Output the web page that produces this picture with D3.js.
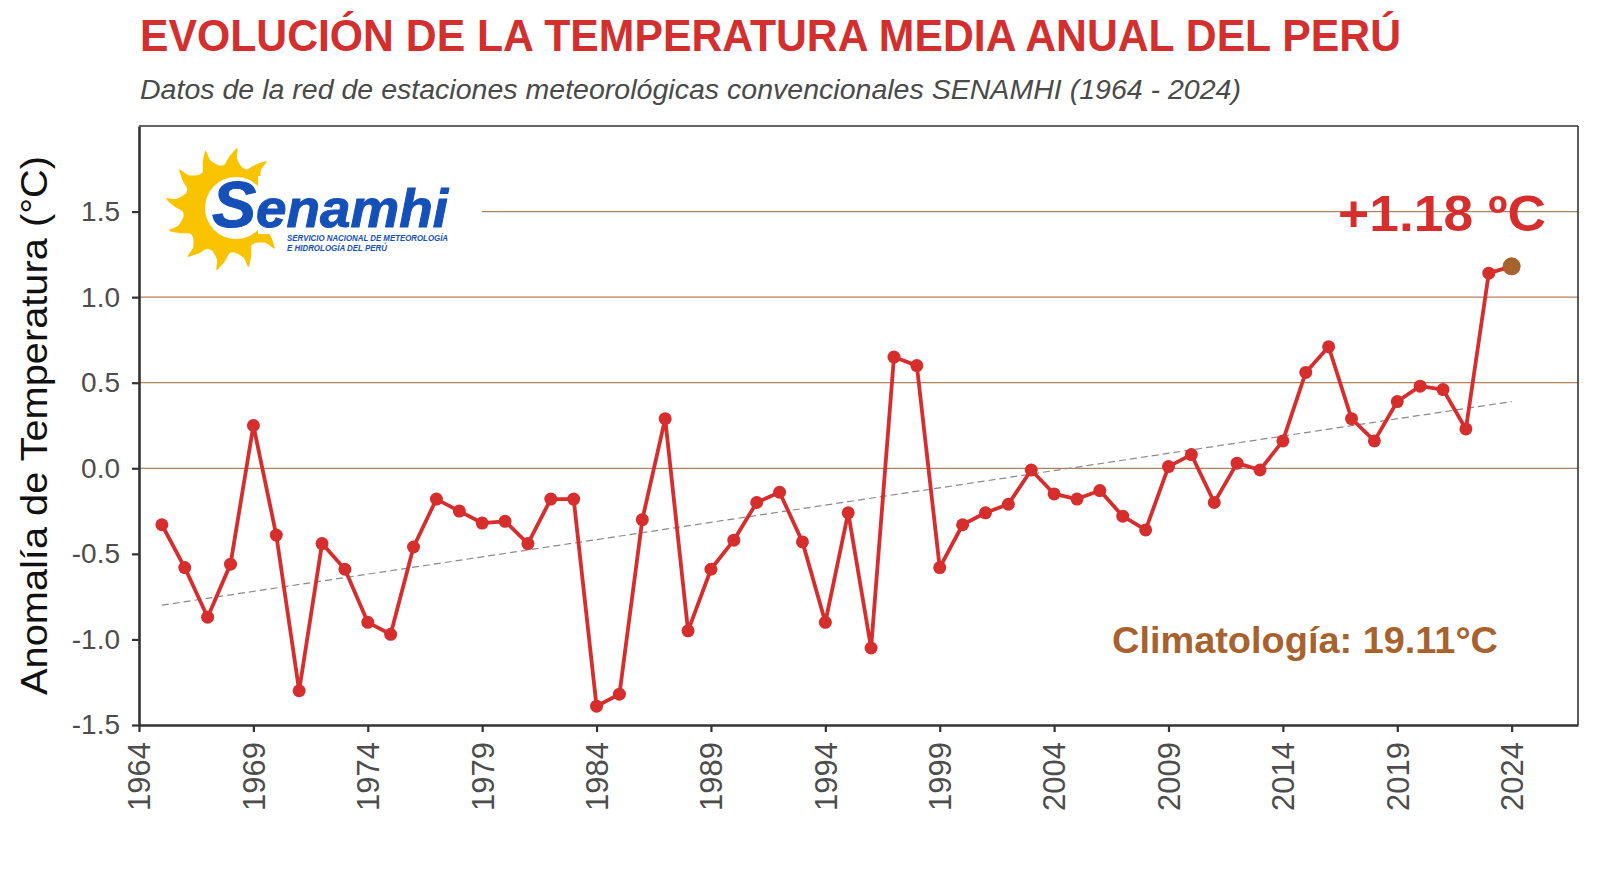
<!DOCTYPE html>
<html>
<head>
<meta charset="utf-8">
<script src="https://cdn.jsdelivr.net/npm/d3@7"></script>
<style>
  body { margin: 0; background: #fff; }
  svg { display: block; font-family: "Liberation Sans", Arial, sans-serif; }
</style>
</head>
<body>
<div id="chart"></div>
<script>
// annual mean temperature anomaly, Peru (°C, vs 19.11 climatology)
var years = [1965, 1966, 1967, 1968, 1969, 1970, 1971, 1972, 1973, 1974,
             1975, 1976, 1977, 1978, 1979, 1980, 1981, 1982, 1983, 1984,
             1985, 1986, 1987, 1988, 1989, 1990, 1991, 1992, 1993, 1994,
             1995, 1996, 1997, 1998, 1999, 2000, 2001, 2002, 2003, 2004,
             2005, 2006, 2007, 2008, 2009, 2010, 2011, 2012, 2013, 2014,
             2015, 2016, 2017, 2018, 2019, 2020, 2021, 2022, 2023, 2024];
var anomalies = [-0.33, -0.58, -0.87, -0.56, 0.25, -0.39, -1.30, -0.44, -0.59, -0.90,
                 -0.97, -0.46, -0.18, -0.25, -0.32, -0.31, -0.44, -0.18, -0.18, -1.39,
                 -1.32, -0.30, 0.29, -0.95, -0.59, -0.42, -0.20, -0.14, -0.43, -0.90,
                 -0.26, -1.05, 0.65, 0.60, -0.58, -0.33, -0.26, -0.21, -0.01, -0.15,
                 -0.18, -0.13, -0.28, -0.36, 0.01, 0.08, -0.20, 0.03, -0.01, 0.16,
                 0.56, 0.71, 0.29, 0.16, 0.39, 0.48, 0.46, 0.23, 1.14, 1.18];
// linear trend shown as dashed line (end points)
var trendYears = [1965, 2024];
var trendValues = [-0.80, 0.39];

var xTicks = [1964, 1969, 1974, 1979, 1984, 1989, 1994, 1999, 2004, 2009, 2014, 2019, 2024];
var yTicks = [-1.5, -1.0, -0.5, 0.0, 0.5, 1.0, 1.5];
var gridValues = [0.0, 0.5, 1.0, 1.5];

var titleText = "EVOLUCIÓN DE LA TEMPERATURA MEDIA ANUAL DEL PERÚ";
var subtitleText = "Datos de la red de estaciones meteorológicas convencionales SENAMHI (1964 - 2024)";
var yTitle = "Anomalía de Temperatura (°C)";
var lastLabel = "+1.18 ºC";
var climLabel = "Climatología: 19.11°C";

var width = 1600, height = 880;
var plotLeft = 139, plotRight = 1578, plotTop = 126, plotBottom = 725;

var red = "#d62d2d", brown = "#a8622e", gridCol = "#b0825e", tickCol = "#4d4d4d";

var svg = d3.select("#chart").append("svg")
  .attr("width", width)
  .attr("height", height);

var x = d3.scaleLinear().domain([1964, 2026.9]).range([plotLeft, plotRight]);
var y = d3.scaleLinear().domain([-1.5, 2.0]).range([plotBottom, plotTop]);

var data = years.map(function(yr, i) { return { year: yr, value: anomalies[i] }; });

// titles
svg.append("text")
  .attr("x", 140).attr("y", 51)
  .attr("font-size", 45).attr("font-weight", "bold")
  .attr("fill", "#d32f2f")
  .attr("textLength", 1261).attr("lengthAdjust", "spacingAndGlyphs")
  .text(titleText);

svg.append("text")
  .attr("x", 140).attr("y", 99)
  .attr("font-size", 27).attr("font-style", "italic")
  .attr("fill", "#4a4a4a")
  .attr("textLength", 1101).attr("lengthAdjust", "spacingAndGlyphs")
  .text(subtitleText);

// Senamhi logo
var logo = svg.append("g");
var sunX = 227, sunY = 209, nRays = 12;
var pts = [];
for (var i = 0; i < nRays; i++) {
  var a = i * 2 * Math.PI / nRays;
  pts.push([a - 0.10, 43]);
  pts.push([a + 0.05, 53]);
  pts.push([a + 0.17, 62]);
  pts.push([a + 0.20, 51]);
}
var ray = d3.lineRadial().curve(d3.curveCardinalClosed.tension(0.3));
logo.append("path")
  .attr("transform", "translate(" + sunX + "," + sunY + ")")
  .attr("d", ray(pts))
  .attr("fill", "#f9c300");
logo.append("circle").attr("cx", sunX).attr("cy", sunY).attr("r", 44).attr("fill", "#f9c300");
logo.append("circle").attr("cx", sunX + 9).attr("cy", sunY - 1).attr("r", 31).attr("fill", "#fff");
logo.append("rect").attr("x", 258).attr("y", 176).attr("width", 196).attr("height", 58)
  .attr("fill", "#fff");

var brand = logo.append("text")
  .attr("x", 212).attr("y", 227)
  .attr("font-weight", "bold").attr("font-style", "italic")
  .attr("fill", "#1550b8")
  .attr("stroke", "#1550b8").attr("stroke-width", 1)
  .attr("textLength", 236).attr("lengthAdjust", "spacingAndGlyphs");
brand.append("tspan").attr("font-size", 64).text("S");
brand.append("tspan").attr("font-size", 53).text("enamhi");

logo.append("text")
  .attr("x", 287).attr("y", 241)
  .attr("font-size", 8.5).attr("font-weight", "bold").attr("font-style", "italic")
  .attr("fill", "#1550b8")
  .attr("textLength", 161).attr("lengthAdjust", "spacingAndGlyphs")
  .text("SERVICIO NACIONAL DE METEOROLOGÍA");
logo.append("text")
  .attr("x", 287).attr("y", 251)
  .attr("font-size", 8.5).attr("font-weight", "bold").attr("font-style", "italic")
  .attr("fill", "#1550b8")
  .attr("textLength", 100).attr("lengthAdjust", "spacingAndGlyphs")
  .text("E HIDROLOGÍA DEL PERÚ");

// gridlines (the 1.5 one starts after the logo)
svg.append("g").selectAll("line")
  .data(gridValues)
  .enter().append("line")
  .attr("x1", function(d) { return d === 1.5 ? 482 : plotLeft; })
  .attr("x2", plotRight)
  .attr("y1", function(d) { return y(d); })
  .attr("y2", function(d) { return y(d); })
  .attr("stroke", gridCol)
  .attr("stroke-width", 1.2);

// trend
svg.append("line")
  .attr("x1", x(trendYears[0])).attr("y1", y(trendValues[0]))
  .attr("x2", x(trendYears[1])).attr("y2", y(trendValues[1]))
  .attr("stroke", "#8a8a8a")
  .attr("stroke-width", 1.2)
  .attr("stroke-dasharray", "7,4");

// series line + points
var line = d3.line()
  .x(function(d) { return x(d.year); })
  .y(function(d) { return y(d.value); });

svg.append("path")
  .datum(data)
  .attr("d", line)
  .attr("fill", "none")
  .attr("stroke", red)
  .attr("stroke-width", 3.8)
  .attr("stroke-linejoin", "round");

svg.append("g").selectAll("circle")
  .data(data.slice(0, -1))
  .enter().append("circle")
  .attr("cx", function(d) { return x(d.year); })
  .attr("cy", function(d) { return y(d.value); })
  .attr("r", 6.5)
  .attr("fill", red);

var last = data[data.length - 1];
svg.append("circle")
  .attr("cx", x(last.year))
  .attr("cy", y(last.value))
  .attr("r", 9)
  .attr("fill", brown);

// annotations
svg.append("text")
  .attr("x", 1338).attr("y", 231)
  .attr("font-size", 50).attr("font-weight", "bold")
  .attr("fill", red)
  .attr("textLength", 208).attr("lengthAdjust", "spacingAndGlyphs")
  .text(lastLabel);

svg.append("text")
  .attr("x", 1112).attr("y", 653)
  .attr("font-size", 36).attr("font-weight", "bold")
  .attr("fill", brown)
  .attr("textLength", 386).attr("lengthAdjust", "spacingAndGlyphs")
  .text(climLabel);

// frame
svg.append("line").attr("x1", plotLeft).attr("x2", plotRight).attr("y1", plotTop).attr("y2", plotTop)
  .attr("stroke", "#333").attr("stroke-width", 1.6);
svg.append("line").attr("x1", plotRight).attr("x2", plotRight).attr("y1", plotTop).attr("y2", plotBottom)
  .attr("stroke", "#333").attr("stroke-width", 1.6);

// axes
var yAxis = d3.axisLeft(y).tickValues(yTicks).tickSizeInner(7).tickSizeOuter(0).tickPadding(12)
  .tickFormat(function(d) { return d3.format(".1f")(d).replace("−", "-"); });
var gy = svg.append("g")
  .attr("transform", "translate(" + plotLeft + ",0)")
  .call(yAxis);
gy.select(".domain").attr("stroke", "#333").attr("stroke-width", 2.6);
gy.selectAll(".tick line").attr("stroke", "#333").attr("stroke-width", 2.2);
gy.selectAll(".tick text")
  .attr("font-size", 28).attr("fill", tickCol)
  .attr("font-family", "Liberation Sans, Arial, sans-serif");

var xAxis = d3.axisBottom(x).tickValues(xTicks).tickSizeInner(7).tickSizeOuter(0)
  .tickFormat(d3.format("d"));
var gx = svg.append("g")
  .attr("transform", "translate(0," + plotBottom + ")")
  .call(xAxis);
gx.select(".domain").attr("stroke", "#333").attr("stroke-width", 2.6);
gx.selectAll(".tick line").attr("stroke", "#333").attr("stroke-width", 2.2);
gx.selectAll(".tick text")
  .attr("font-size", 31).attr("fill", tickCol)
  .attr("font-family", "Liberation Sans, Arial, sans-serif")
  .attr("text-anchor", "end")
  .attr("transform", "translate(0,17) rotate(-90)")
  .attr("x", 0).attr("y", 0).attr("dy", "0.35em");

// y title
svg.append("text")
  .attr("transform", "translate(47," + ((plotTop + plotBottom) / 2) + ") rotate(-90)")
  .attr("text-anchor", "middle")
  .attr("font-size", 36)
  .attr("fill", "#111")
  .attr("textLength", 539).attr("lengthAdjust", "spacingAndGlyphs")
  .text(yTitle);
</script>
</body>
</html>
